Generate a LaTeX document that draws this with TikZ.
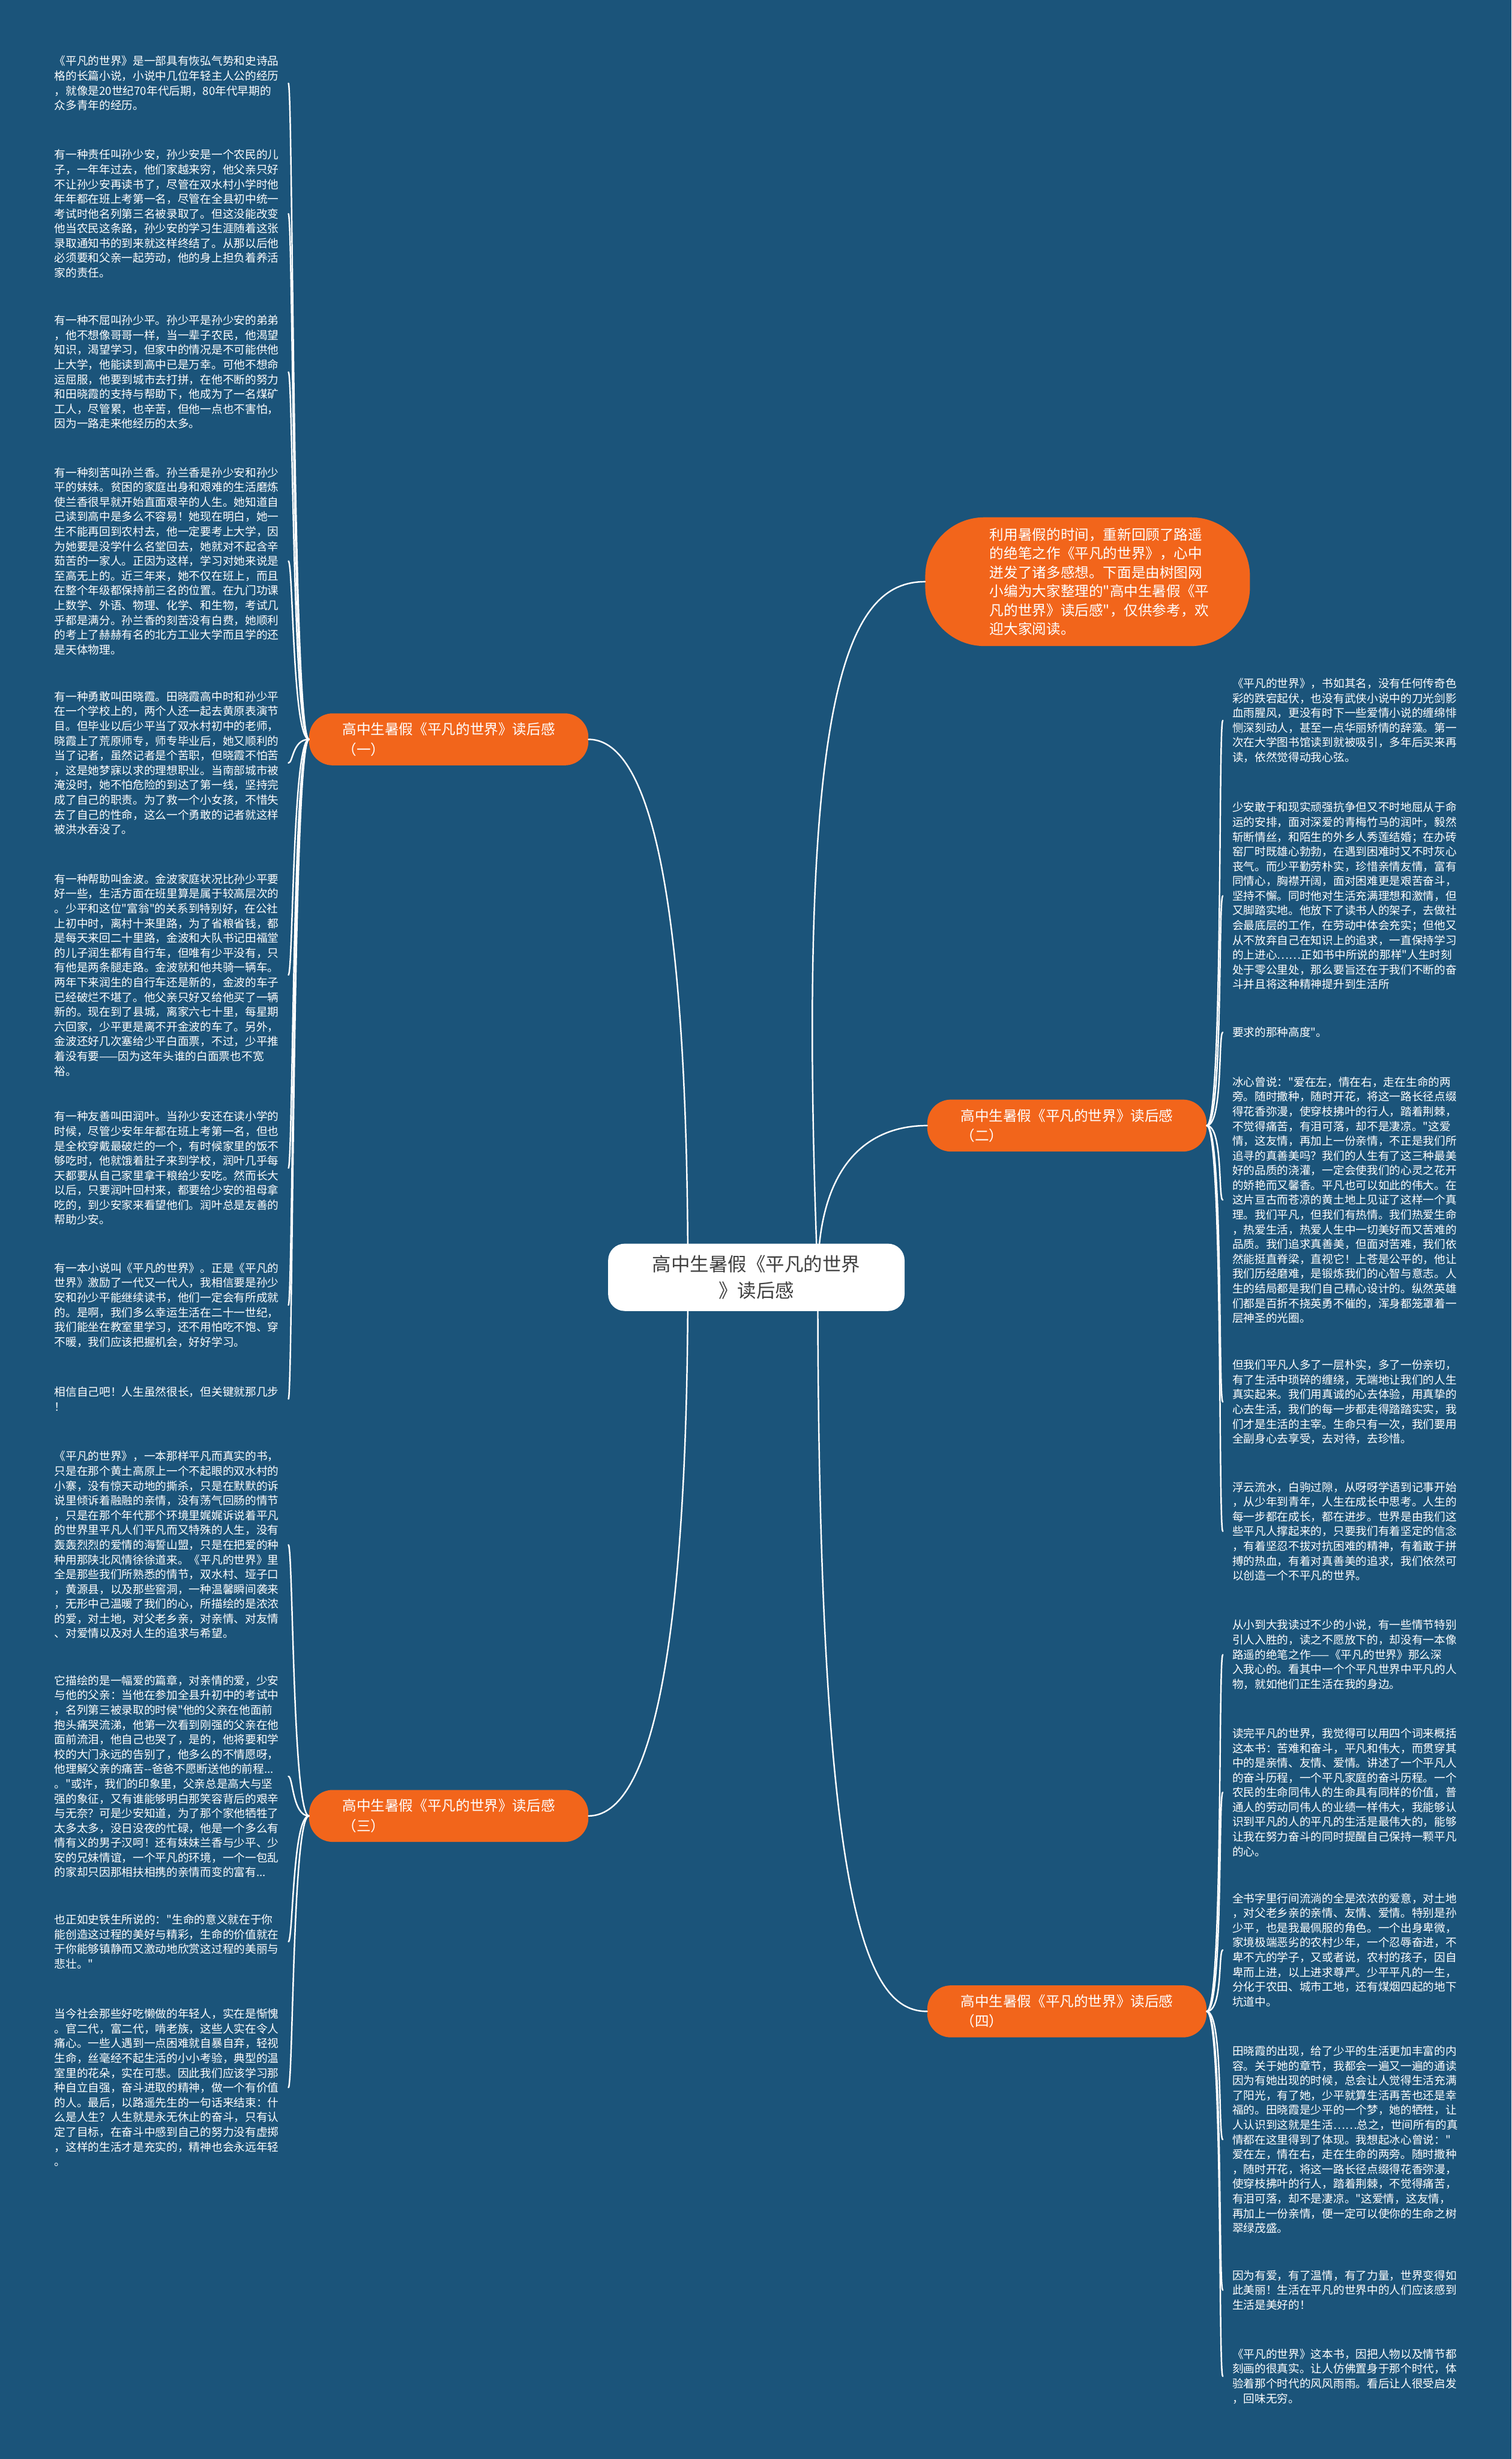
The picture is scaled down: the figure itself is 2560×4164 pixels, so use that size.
\documentclass[tikz,border=0pt]{standalone}
\usepackage{fontspec}
\newfontfamily\cjk{Noto Sans CJK SC}
\definecolor{mapBg}{RGB}{27,84,122}
\definecolor{mapOrange}{RGB}{242,101,27}
\definecolor{mapRootText}{RGB}{64,64,64}
\providecommand{\mapLinkWidth}{2.5pt}
\tikzset{
  leaf/.style={anchor=west, inner xsep=16pt, inner ysep=0pt, align=left, text=white, font=\cjk\fontsize{19}{25}\selectfont},
  branch/.style={fill=mapOrange, rounded corners=40pt, minimum width=473pt, minimum height=88pt, align=left, text=white, font=\cjk\fontsize{24}{34}\selectfont},
  link/.style={draw=white, line width=\mapLinkWidth, line cap=round}
}
\begin{document}
\begin{tikzpicture}[x=1pt, y=-1pt]
% Canvas
\useasboundingbox (0,0) rectangle (2560,4164);
\fill[mapBg] (0,0) rectangle (2560,4164);
% Coordinates for the root and its children
\coordinate (rootL) at (1165,2163);
\coordinate (rootR) at (1385,2163);
% Branch nodes
\node[branch] (b1) at (760,1252) {高中生暑假《平凡的世界》读后感\\（一）};
\node[branch] (b2) at (1807,1906) {高中生暑假《平凡的世界》读后感\\（二）};
\node[branch] (b3) at (760,3075) {高中生暑假《平凡的世界》读后感\\（三）};
\node[branch] (b4) at (1807,3406) {高中生暑假《平凡的世界》读后感\\（四）};
% Intro bubble and its text
\node[fill=mapOrange, rounded corners=100pt, minimum width=550pt, minimum height=218pt] (intro) at (1842,985) {};
\node[align=left, text=white, font=\cjk\fontsize{24}{32}\selectfont] (introText) at ([xshift=20pt]intro.center) {利用暑假的时间，重新回顾了路遥\\
的绝笔之作《平凡的世界》，心中\\
迸发了诸多感想。下面是由树图网\\
小编为大家整理的"高中生暑假《平\\
凡的世界》读后感"，仅供参考，欢\\
迎大家阅读。};
% Leaves of branch one
\node[leaf] (l1) at (76,141) {《平凡的世界》是一部具有恢弘气势和史诗品\\
格的长篇小说，小说中几位年轻主人公的经历\\
，就像是20世纪70年代后期，80年代早期的\\
众多青年的经历。};
\node[leaf] (l2) at (76,362) {有一种责任叫孙少安，孙少安是一个农民的儿\\
子，一年年过去，他们家越来穷，他父亲只好\\
不让孙少安再读书了，尽管在双水村小学时他\\
年年都在班上考第一名，尽管在全县初中统一\\
考试时他名列第三名被录取了。但这没能改变\\
他当农民这条路，孙少安的学习生涯随着这张\\
录取通知书的到来就这样终结了。从那以后他\\
必须要和父亲一起劳动，他的身上担负着养活\\
家的责任。};
\node[leaf] (l3) at (76,630) {有一种不屈叫孙少平。孙少平是孙少安的弟弟\\
，他不想像哥哥一样，当一辈子农民，他渴望\\
知识，渴望学习，但家中的情况是不可能供他\\
上大学，他能读到高中已是万幸。可他不想命\\
运屈服，他要到城市去打拼，在他不断的努力\\
和田晓霞的支持与帮助下，他成为了一名煤矿\\
工人，尽管累，也辛苦，但他一点也不害怕，\\
因为一路走来他经历的太多。};
\node[leaf] (l4) at (76,950) {有一种刻苦叫孙兰香。孙兰香是孙少安和孙少\\
平的妹妹。贫困的家庭出身和艰难的生活磨炼\\
使兰香很早就开始直面艰辛的人生。她知道自\\
己读到高中是多么不容易！她现在明白，她一\\
生不能再回到农村去，他一定要考上大学，因\\
为她要是没学什么名堂回去，她就对不起含辛\\
茹苦的一家人。正因为这样，学习对她来说是\\
至高无上的。近三年来，她不仅在班上，而且\\
在整个年级都保持前三名的位置。在九门功课\\
上数学、外语、物理、化学、和生物，考试几\\
乎都是满分。孙兰香的刻苦没有白费，她顺利\\
的考上了赫赫有名的北方工业大学而且学的还\\
是天体物理。};
\node[leaf] (l5) at (76,1292) {有一种勇敢叫田晓霞。田晓霞高中时和孙少平\\
在一个学校上的，两个人还一起去黄原表演节\\
目。但毕业以后少平当了双水村初中的老师，\\
晓霞上了荒原师专，师专毕业后，她又顺利的\\
当了记者，虽然记者是个苦职，但晓霞不怕苦\\
，这是她梦寐以求的理想职业。当南部城市被\\
淹没时，她不怕危险的到达了第一线，坚持完\\
成了自己的职责。为了救一个小女孩，不惜失\\
去了自己的性命，这么一个勇敢的记者就这样\\
被洪水吞没了。};
\node[leaf] (l6) at (76,1651) {有一种帮助叫金波。金波家庭状况比孙少平要\\
好一些，生活方面在班里算是属于较高层次的\\
。少平和这位"富翁"的关系到特别好，在公社\\
上初中时，离村十来里路，为了省粮省钱，都\\
是每天来回二十里路，金波和大队书记田福堂\\
的儿子润生都有自行车，但唯有少平没有，只\\
有他是两条腿走路。金波就和他共骑一辆车。\\
两年下来润生的自行车还是新的，金波的车子\\
已经破烂不堪了。他父亲只好又给他买了一辆\\
新的。现在到了县城，离家六七十里，每星期\\
六回家，少平更是离不开金波的车了。另外，\\
金波还好几次塞给少平白面票，不过，少平推\\
着没有要——因为这年头谁的白面票也不宽\\
裕。};
\node[leaf] (l7) at (76,1978) {有一种友善叫田润叶。当孙少安还在读小学的\\
时候，尽管少安年年都在班上考第一名，但也\\
是全校穿戴最破烂的一个，有时候家里的饭不\\
够吃时，他就饿着肚子来到学校，润叶几乎每\\
天都要从自己家里拿干粮给少安吃。然而长大\\
以后，只要润叶回村来，都要给少安的祖母拿\\
吃的，到少安家来看望他们。润叶总是友善的\\
帮助少安。};
\node[leaf] (l8) at (76,2210) {有一本小说叫《平凡的世界》。正是《平凡的\\
世界》激励了一代又一代人，我相信要是孙少\\
安和孙少平能继续读书，他们一定会有所成就\\
的。是啊，我们多么幸运生活在二十一世纪，\\
我们能坐在教室里学习，还不用怕吃不饱、穿\\
不暖，我们应该把握机会，好好学习。};
\node[leaf] (l9) at (76,2369) {相信自己吧！人生虽然很长，但关键就那几步\\
！};
% Leaves of branch three
\node[leaf] (l10) at (76,2616) {《平凡的世界》，一本那样平凡而真实的书，\\
只是在那个黄土高原上一个不起眼的双水村的\\
小寨，没有惊天动地的撕杀，只是在默默的诉\\
说里倾诉着融融的亲情，没有荡气回肠的情节\\
，只是在那个年代那个环境里娓娓诉说着平凡\\
的世界里平凡人们平凡而又特殊的人生，没有\\
轰轰烈烈的爱情的海誓山盟，只是在把爱的种\\
种用那陕北风情徐徐道来。《平凡的世界》里\\
全是那些我们所熟悉的情节，双水村、垭子口\\
，黄源县，以及那些窖洞，一种温馨瞬间袭来\\
，无形中己温暖了我们的心，所描绘的是浓浓\\
的爱，对土地，对父老乡亲，对亲情、对友情\\
、对爱情以及对人生的追求与希望。};
\node[leaf] (l11) at (76,3008) {它描绘的是一幅爱的篇章，对亲情的爱，少安\\
与他的父亲：当他在参加全县升初中的考试中\\
，名列第三被录取的时候"他的父亲在他面前\\
抱头痛哭流涕，他第一次看到刚强的父亲在他\\
面前流泪，他自己也哭了，是的，他将要和学\\
校的大门永远的告别了，他多么的不情愿呀，\\
他理解父亲的痛苦--爸爸不愿断送他的前程...\\
。"或许，我们的印象里，父亲总是高大与坚\\
强的象征，又有谁能够明白那笑容背后的艰辛\\
与无奈？可是少安知道，为了那个家他牺牲了\\
太多太多，没日没夜的忙碌，他是一个多么有\\
情有义的男子汉呵！还有妹妹兰香与少平、少\\
安的兄妹情谊，一个平凡的环境，一个一包乱\\
的家却只因那相扶相携的亲情而变的富有...};
\node[leaf] (l12) at (76,3288) {也正如史铁生所说的："生命的意义就在于你\\
能创造这过程的美好与精彩，生命的价值就在\\
于你能够镇静而又激动地欣赏这过程的美丽与\\
悲壮。"};
\node[leaf] (l13) at (76,3535) {当今社会那些好吃懒做的年轻人，实在是惭愧\\
。官二代，富二代，啃老族，这些人实在令人\\
痛心。一些人遇到一点困难就自暴自弃，轻视\\
生命，丝毫经不起生活的小小考验，典型的温\\
室里的花朵，实在可悲。因此我们应该学习那\\
种自立自强，奋斗进取的精神，做一个有价值\\
的人。最后，以路遥先生的一句话来结束：什\\
么是人生？人生就是永无休止的奋斗，只有认\\
定了目标，在奋斗中感到自己的努力没有虚掷\\
，这样的生活才是充实的，精神也会永远年轻\\
。};
% Leaves of branch two
\node[leaf] (r1) at (2071,1220) {《平凡的世界》，书如其名，没有任何传奇色\\
彩的跌宕起伏，也没有武侠小说中的刀光剑影\\
血雨腥风，更没有时下一些爱情小说的缠绵悱\\
恻深刻动人，甚至一点华丽矫情的辞藻。第一\\
次在大学图书馆读到就被吸引，多年后买来再\\
读，依然觉得动我心弦。};
\node[leaf] (r2) at (2071,1517) {少安敢于和现实顽强抗争但又不时地屈从于命\\
运的安排，面对深爱的青梅竹马的润叶，毅然\\
斩断情丝，和陌生的外乡人秀莲结婚；在办砖\\
窑厂时既雄心勃勃，在遇到困难时又不时灰心\\
丧气。而少平勤劳朴实，珍惜亲情友情，富有\\
同情心，胸襟开阔，面对困难更是艰苦奋斗，\\
坚持不懈。同时他对生活充满理想和激情，但\\
又脚踏实地。他放下了读书人的架子，去做社\\
会最底层的工作，在劳动中体会充实；但他又\\
从不放弃自己在知识上的追求，一直保持学习\\
的上进心……正如书中所说的那样"人生时刻\\
处于零公里处，那么要旨还在于我们不断的奋\\
斗并且将这种精神提升到生活所};
\node[leaf] (r3) at (2071,1748) {要求的那种高度"。};
\node[leaf] (r4) at (2071,2032) {冰心曾说："爱在左，情在右，走在生命的两\\
旁。随时撒种，随时开花，将这一路长径点缀\\
得花香弥漫，使穿枝拂叶的行人，踏着荆棘，\\
不觉得痛苦，有泪可落，却不是凄凉。"这爱\\
情，这友情，再加上一份亲情，不正是我们所\\
追寻的真善美吗？我们的人生有了这三种最美\\
好的品质的浇灌，一定会使我们的心灵之花开\\
的娇艳而又馨香。平凡也可以如此的伟大。在\\
这片亘古而苍凉的黄土地上见证了这样一个真\\
理。我们平凡，但我们有热情。我们热爱生命\\
，热爱生活，热爱人生中一切美好而又苦难的\\
品质。我们追求真善美，但面对苦难，我们依\\
然能挺直脊梁，直视它！上苍是公平的，他让\\
我们历经磨难，是锻炼我们的心智与意志。人\\
生的结局都是我们自己精心设计的。纵然英雄\\
们都是百折不挠英勇不催的，浑身都笼罩着一\\
层神圣的光圈。};
\node[leaf] (r5) at (2071,2374) {但我们平凡人多了一层朴实，多了一份亲切，\\
有了生活中琐碎的缠绕，无端地让我们的人生\\
真实起来。我们用真诚的心去体验，用真挚的\\
心去生活，我们的每一步都走得踏踏实实，我\\
们才是生活的主宰。生命只有一次，我们要用\\
全副身心去享受，去对待，去珍惜。};
\node[leaf] (r6) at (2071,2593) {浮云流水，白驹过隙，从呀呀学语到记事开始\\
，从少年到青年，人生在成长中思考。人生的\\
每一步都在成长，都在进步。世界是由我们这\\
些平凡人撑起来的，只要我们有着坚定的信念\\
，有着坚忍不拔对抗困难的精神，有着敢于拼\\
搏的热血，有着对真善美的追求，我们依然可\\
以创造一个不平凡的世界。};
% Leaves of branch four
\node[leaf] (r7) at (2071,2802) {从小到大我读过不少的小说，有一些情节特别\\
引人入胜的，读之不愿放下的，却没有一本像\\
路遥的绝笔之作——《平凡的世界》那么深\\
入我心的。看其中一个个平凡世界中平凡的人\\
物，就如他们正生活在我的身边。};
\node[leaf] (r8) at (2071,3035) {读完平凡的世界，我觉得可以用四个词来概括\\
这本书：苦难和奋斗，平凡和伟大，而贯穿其\\
中的是亲情、友情、爱情。讲述了一个平凡人\\
的奋斗历程，一个平凡家庭的奋斗历程。一个\\
农民的生命同伟人的生命具有同样的价值，普\\
通人的劳动同伟人的业绩一样伟大，我能够认\\
识到平凡的人的平凡的生活是最伟大的，能够\\
让我在努力奋斗的同时提醒自己保持一颗平凡\\
的心。};
\node[leaf] (r9) at (2071,3302) {全书字里行间流淌的全是浓浓的爱意，对土地\\
，对父老乡亲的亲情、友情、爱情。特别是孙\\
少平，也是我最佩服的角色。一个出身卑微，\\
家境极端恶劣的农村少年，一个忍辱奋进，不\\
卑不亢的学子，又或者说，农村的孩子，因自\\
卑而上进，以上进求尊严。少平平凡的一生，\\
分化于农田、城市工地，还有煤烟四起的地下\\
坑道中。};
\node[leaf] (r10) at (2071,3623) {田晓霞的出现，给了少平的生活更加丰富的内\\
容。关于她的章节，我都会一遍又一遍的通读\\
因为有她出现的时候，总会让人觉得生活充满\\
了阳光，有了她，少平就算生活再苦也还是幸\\
福的。田晓霞是少平的一个梦，她的牺牲，让\\
人认识到这就是生活……总之，世间所有的真\\
情都在这里得到了体现。我想起冰心曾说："\\
爱在左，情在右，走在生命的两旁。随时撒种\\
，随时开花，将这一路长径点缀得花香弥漫，\\
使穿枝拂叶的行人，踏着荆棘，不觉得痛苦，\\
有泪可落，却不是凄凉。"这爱情，这友情，\\
再加上一份亲情，便一定可以使你的生命之树\\
翠绿茂盛。};
\node[leaf] (r11) at (2071,3878) {因为有爱，有了温情，有了力量，世界变得如\\
此美丽！生活在平凡的世界中的人们应该感到\\
生活是美好的！};
\node[leaf] (r12) at (2071,4024) {《平凡的世界》这本书，因把人物以及情节都\\
刻画的很真实。让人仿佛置身于那个时代，体\\
验着那个时代的风风雨雨。看后让人很受启发\\
，回味无穷。};
% Links from the root
\draw[link] (rootL) .. controls (1165,1420) and (1080,1252) .. (b1.east);
\draw[link] (rootL) .. controls (1165,2900) and (1080,3075) .. (b3.east);
\draw[link] (rootR) .. controls (1345,1150) and (1440,985) .. (intro.west);
\draw[link] (rootR) .. controls (1385,1960) and (1480,1906) .. (b2.west);
\draw[link] (rootR) .. controls (1385,3250) and (1470,3406) .. (b4.west);
% Links to the leaves
\foreach \n in {l1,l2,l3,l4,l5,l6,l7,l8,l9}
  \draw[link] (b1.west) .. controls +(-28,0) and +(8,0) .. (\n.east);
\foreach \n in {l10,l11,l12,l13}
  \draw[link] (b3.west) .. controls +(-28,0) and +(8,0) .. (\n.east);
\foreach \n in {r1,r2,r3,r4,r5,r6}
  \draw[link] (b2.east) .. controls +(28,0) and +(-8,0) .. (\n.west);
\foreach \n in {r7,r8,r9,r10,r11,r12}
  \draw[link] (b4.east) .. controls +(28,0) and +(-8,0) .. (\n.west);
% Root node on top
\node[fill=white, rounded corners=28pt, minimum width=502pt, minimum height=114pt, align=center, text=mapRootText, font=\cjk\fontsize{32}{45}\selectfont] (root) at (1281,2163) {高中生暑假《平凡的世界\\》读后感};
\end{tikzpicture}
\end{document}
